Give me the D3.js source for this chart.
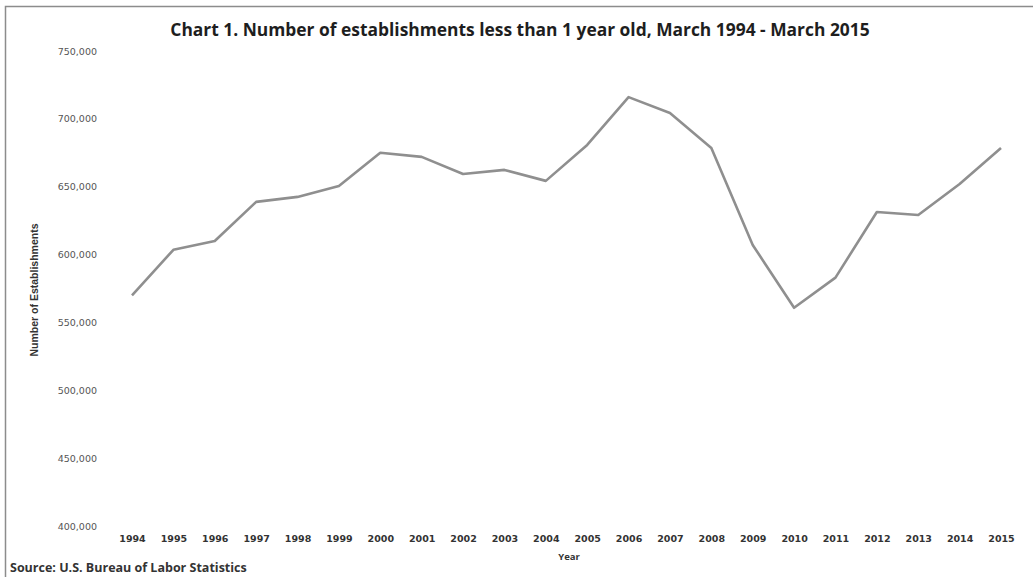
<!DOCTYPE html>
<html><head><meta charset="utf-8">
<script src="https://cdn.jsdelivr.net/npm/d3@7"></script>
<style>body{margin:0;background:#fff}svg{display:block}</style>
</head><body><svg id="c" width="1033" height="578"></svg>
<script>
const years = ["1994","1995","1996","1997","1998","1999","2000","2001","2002","2003","2004","2005","2006","2007","2008","2009","2010","2011","2012","2013","2014","2015"];
const establishments = [570000,603500,610000,638800,642500,650600,675000,672000,659400,662400,654300,680800,716000,704300,678600,607100,560800,583000,631400,629200,652000,678600];
const yTicks = [400000,450000,500000,550000,600000,650000,700000,750000];
const titleText = "Chart 1. Number of establishments less than 1 year old, March 1994 - March 2015";
const yTitle = "Number of Establishments";
const xTitle = "Year";
const sourceText = "Source: U.S. Bureau of Labor Statistics";

const svg = d3.select("#c");
const W = 1033, H = 578;
svg.append("rect").attr("x",0).attr("y",0).attr("width",W).attr("height",H).attr("fill","#fff");
// frame
svg.append("path").attr("d","M5.5,577 V6.5 H1033").attr("fill","none").attr("stroke","#8c8c8c").attr("stroke-width",1.5);

const x = d3.scalePoint().domain(years).range([132,1001]);
const y = d3.scaleLinear().domain([400000,750000]).range([526,51]);

svg.append("text").attr("x",520).attr("y",36).attr("text-anchor","middle")
  .attr("font-family","Open Sans").attr("font-weight","bold").attr("font-size",17.4).attr("fill","#1e1e1e")
  .text(titleText);

const fmt = d3.format(",");
const yAxis = svg.append("g").attr("transform","translate(100,0)")
  .call(d3.axisLeft(y).tickValues(yTicks).tickFormat(fmt).tickSize(0).tickPadding(3));
yAxis.select(".domain").remove();
yAxis.selectAll("text").attr("font-family","DejaVu Sans").attr("font-size",9.5).attr("fill","#555");

const xAxis = svg.append("g").attr("transform","translate(0,535)")
  .call(d3.axisBottom(x).tickSize(0).tickPadding(0));
xAxis.select(".domain").remove();
xAxis.selectAll("text").attr("font-family","DejaVu Sans").attr("font-size",9.5).attr("fill","#333").attr("font-weight","bold");

svg.append("text").attr("transform","translate(38,290) rotate(-90)").attr("text-anchor","middle")
  .attr("font-family","Liberation Sans Narrow, Liberation Sans").attr("font-weight","bold").attr("font-size",10.5).attr("fill","#333")
  .text(yTitle);

svg.append("text").attr("x",569).attr("y",560).attr("text-anchor","middle")
  .attr("font-family","Open Sans").attr("font-weight","bold").attr("font-size",9.5).attr("fill","#333")
  .text(xTitle);

svg.append("text").attr("x",10).attr("y",572)
  .attr("font-family","Open Sans").attr("font-weight","bold").attr("font-size",12.5).attr("fill","#333")
  .text(sourceText);

const line = d3.line().x((d,i)=>x(years[i])).y(d=>y(d));
svg.append("path").datum(establishments).attr("d",line).attr("fill","none")
  .attr("stroke","#8f8f8f").attr("stroke-width",2.6).attr("stroke-linejoin","round");
</script></body></html>
